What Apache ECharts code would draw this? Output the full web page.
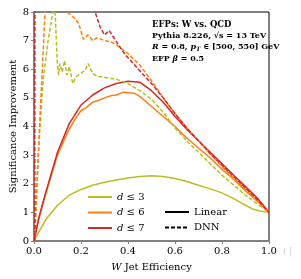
<!DOCTYPE html>
<html><head><meta charset="utf-8">
<script src="https://cdn.jsdelivr.net/npm/echarts@6/dist/echarts.min.js"></script>
<style>html,body{margin:0;padding:0;background:#fff}#c{width:301px;height:279px}</style>
</head><body><div id="c"></div>
<script>
// ---- data (x = W jet efficiency, y = significance improvement) ----
const d3Linear = [[0,0],[0.02,0.3],[0.05,0.75],[0.08,1.05],[0.1,1.25],[0.15,1.6],[0.2,1.8],[0.25,1.95],[0.3,2.05],[0.35,2.13],[0.4,2.2],[0.45,2.25],[0.5,2.28],[0.55,2.25],[0.6,2.18],[0.65,2.08],[0.7,1.95],[0.75,1.82],[0.8,1.68],[0.85,1.48],[0.88,1.34],[0.9,1.25],[0.93,1.12],[0.96,1.05],[1.0,1.0]];
const d6Linear = [[0,0],[0.02,0.75],[0.05,1.65],[0.1,3.0],[0.14,3.75],[0.17,4.2],[0.2,4.55],[0.22,4.65],[0.25,4.85],[0.27,4.9],[0.3,5.0],[0.33,5.08],[0.35,5.1],[0.38,5.2],[0.4,5.18],[0.43,5.15],[0.45,5.05],[0.5,4.7],[0.55,4.35],[0.6,4.0],[0.65,3.6],[0.7,3.25],[0.75,2.9],[0.8,2.5],[0.85,2.15],[0.9,1.75],[0.95,1.4],[1.0,1.0]];
const d7Linear = [[0,0],[0.02,0.8],[0.05,1.7],[0.1,3.1],[0.15,4.1],[0.2,4.75],[0.25,5.1],[0.3,5.35],[0.35,5.5],[0.4,5.58],[0.45,5.55],[0.5,5.25],[0.55,4.85],[0.6,4.35],[0.65,3.9],[0.7,3.5],[0.75,3.1],[0.8,2.7],[0.85,2.3],[0.9,1.9],[0.95,1.5],[1.0,1.0]];
const d3DNN = [[0.003,0],[0.01,1.5],[0.02,3.2],[0.03,4.6],[0.04,5.7],[0.06,7.0],[0.08,8.0],[0.085,8.6],[0.09,8.0],[0.095,7.0],[0.1,6.1],[0.105,5.8],[0.11,6.2],[0.12,5.9],[0.13,6.3],[0.14,5.8],[0.15,6.1],[0.16,5.7],[0.165,5.5],[0.18,5.75],[0.2,5.85],[0.22,6.0],[0.23,6.2],[0.25,5.85],[0.27,5.75],[0.3,5.72],[0.35,5.65],[0.4,5.5],[0.45,5.25],[0.5,4.95],[0.55,4.5],[0.6,3.95],[0.65,3.5],[0.7,3.1],[0.75,2.7],[0.8,2.3],[0.85,1.95],[0.9,1.6],[0.95,1.3],[1.0,1.0]];
const d6DNN = [[0.002,0],[0.015,2.5],[0.033,5.6],[0.047,8.0],[0.06,9.5],[0.12,9.5],[0.14,8.0],[0.155,7.9],[0.17,7.8],[0.19,7.6],[0.21,7.05],[0.23,7.2],[0.25,7.0],[0.27,7.1],[0.3,7.0],[0.33,6.95],[0.35,6.85],[0.4,6.55],[0.45,6.15],[0.5,5.6],[0.55,5.0],[0.6,4.45],[0.65,3.95],[0.7,3.5],[0.75,3.05],[0.8,2.6],[0.85,2.2],[0.9,1.8],[0.95,1.4],[1.0,1.0]];
const d7DNN = [[0.003,0],[0.004,9.5],[0.24,9.5],[0.26,8.0],[0.28,7.5],[0.3,7.2],[0.32,7.35],[0.34,7.1],[0.36,6.85],[0.38,6.6],[0.4,6.4],[0.45,5.95],[0.5,5.5],[0.55,5.0],[0.6,4.45],[0.65,3.95],[0.7,3.5],[0.75,3.05],[0.8,2.65],[0.85,2.25],[0.9,1.85],[0.95,1.45],[1.0,1.0]];
const xTicks = [0, 0.2, 0.4, 0.6, 0.8, 1.0];
const yTicks = [0, 1, 2, 3, 4, 5, 6, 7, 8];
const legendNames = ['d ≤ 3', 'd ≤ 6', 'd ≤ 7'];
const styleNames = ['Linear', 'DNN'];

const C3 = '#bcbd22', C6 = '#ff7f0e', C7 = '#d62728';
const FONT = 'DejaVu Serif';
const chart = echarts.init(document.getElementById('c'), null, {renderer: 'canvas'});
function line(name, data, color, dashed) {
  return {name, type: 'line', data, showSymbol: false, symbol: 'none', clip: true, animation: false,
    lineStyle: {color, width: 1.5, type: dashed ? [4, 2] : 'solid'}, itemStyle: {color}};
}
const legendCommon = {
  orient: 'vertical', itemWidth: 24, itemHeight: 8, itemGap: 5.5,
  itemStyle: {opacity: 0}, lineStyle: {width: 2}
};
chart.setOption({
  animation: false,
  grid: {left: 34, right: 32, top: 12, bottom: 38, show: true, borderColor: '#000', borderWidth: 1, containLabel: false, outerBoundsMode: 'none'},
  title: {
    left: 152, top: 19, padding: 0,
    text: '{b|EFPs: W vs. QCD}\n{n|Pythia 8.226, √s = 13 TeV}\n{i|R}{n| = 0.8, }{i|p}{s|T}{n| ∈ [500, 550] GeV}\n{n|EFP }{i|β}{n| = 0.5}',
    textStyle: {
      fontFamily: FONT, fontSize: 8, color: '#000', lineHeight: 11.3,
      rich: {
        b: {fontFamily: FONT, fontSize: 8.5, fontWeight: 'bold', color: '#000', lineHeight: 11.3},
        n: {fontFamily: FONT, fontSize: 8, color: '#000', lineHeight: 11.3},
        i: {fontFamily: FONT, fontSize: 8, fontStyle: 'italic', color: '#000', lineHeight: 11.3},
        s: {fontFamily: FONT, fontSize: 6, fontStyle: 'italic', color: '#000', lineHeight: 11.3, verticalAlign: 'bottom'}
      }
    }
  },
  legend: [Object.assign({
    data: legendNames, left: 82, top: 187,
    formatter: n => '{i|d}{n|' + n.slice(1) + '}',
    textStyle: {fontFamily: FONT, fontSize: 10, color: '#000', rich: {i: {fontFamily: FONT, fontStyle: 'italic', fontSize: 10}, n: {fontFamily: FONT, fontSize: 10}}}
  }, legendCommon), Object.assign({
    data: styleNames, left: 159, top: 202,
    textStyle: {fontFamily: FONT, fontSize: 10, color: '#000'}
  }, legendCommon)],
  graphic: [{type: 'text', left: 283, top: 247, style: {text: '( |', fontFamily: FONT, fontSize: 9, fill: '#d0d0d0'}}],
  xAxis: {
    type: 'value', min: 0, max: 1, interval: 0.2,
    name: '{i|W}{n| Jet Efficiency}', nameLocation: 'middle', nameGap: 21, nameMoveOverlap: false,
    nameTextStyle: {fontFamily: FONT, fontSize: 10, color: '#000', rich: {i: {fontFamily: FONT, fontStyle: 'italic', fontSize: 10}, n: {fontFamily: FONT, fontSize: 10}}},
    axisLine: {lineStyle: {color: '#808080', width: 2}},
    axisTick: {show: true, length: 3, lineStyle: {color: '#808080'}},
    axisLabel: {fontFamily: FONT, fontSize: 10, color: '#000', margin: 5, formatter: v => xTicks.includes(+v.toFixed(1)) ? v.toFixed(1) : ''},
    splitLine: {show: false}
  },
  yAxis: {
    type: 'value', min: 0, max: 8, interval: 1,
    name: 'Significance Improvement', nameLocation: 'middle', nameGap: 16, nameMoveOverlap: false,
    nameTextStyle: {fontFamily: FONT, fontSize: 10, color: '#000'},
    axisLine: {lineStyle: {color: '#808080', width: 2}},
    axisTick: {show: true, length: 3, lineStyle: {color: '#808080'}},
    axisLabel: {fontFamily: FONT, fontSize: 10, color: '#000', margin: 5, formatter: v => yTicks.includes(v) ? String(v) : ''},
    splitLine: {show: false}
  },
  series: [
    line('d ≤ 3', d3Linear, C3, false),
    line('d ≤ 6', d6Linear, C6, false),
    line('d ≤ 7', d7Linear, C7, false),
    line('d ≤ 3 DNN', d3DNN, C3, true),
    line('d ≤ 6 DNN', d6DNN, C6, true),
    line('d ≤ 7 DNN', d7DNN, C7, true),
    line('Linear', [], '#000', false),
    line('DNN', [], '#000', true)
  ]
});
</script></body></html>
